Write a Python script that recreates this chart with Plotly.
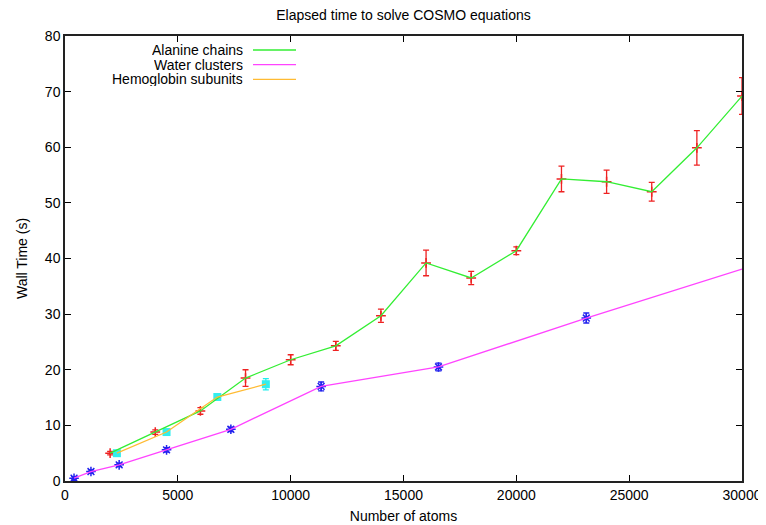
import plotly.graph_objects as go

# Alanine chains
ala_x = [2000, 4000, 6000, 8000, 10000, 12000, 14000, 16000, 18000, 20000, 22000, 24000, 26000, 28000, 30000]
ala_y = [5.0, 8.8, 12.6, 18.5, 21.8, 24.3, 29.7, 39.2, 36.5, 41.4, 54.3, 53.8, 52.0, 59.9, 69.2]
ala_e = [0.3, 0.4, 0.6, 1.5, 0.9, 0.8, 1.2, 2.3, 1.2, 0.7, 2.3, 2.1, 1.7, 3.1, 3.3]

# Water clusters
wat_x = [400, 1150, 2400, 4500, 7350, 11350, 16550, 23100]
wat_y = [0.5, 1.7, 2.9, 5.6, 9.3, 17.0, 20.5, 29.3]
wat_e = [0.3, 0.3, 0.3, 0.4, 0.4, 0.8, 0.7, 0.9]
wat_line_x = wat_x + [30000]
wat_line_y = wat_y + [38.1]

# Hemoglobin subunits
hem_x = [2300, 4500, 6750, 8900]
hem_y = [5.0, 8.8, 15.1, 17.4]
hem_e = [0.3, 0.3, 0.4, 1.0]

legend_names = ["Alanine chains", "Water clusters", "Hemoglobin subunits"]
line_colors = ["#33ee33", "#ff44ff", "#ffbb33"]

FONT = "Liberation Sans"
FS = 14
OFF = 8  # page body margin
W, H = 766 - OFF, 525 - OFF
l, r, t, b = 65 - OFF, 24, 36 - OFF, 44
pw, ph = W - l - r, H - t - b

fig = go.Figure()

fig.add_trace(go.Scatter(x=ala_x, y=ala_y, mode="markers",
                         error_y=dict(type="data", array=ala_e, color="#ee2222", thickness=1.3, width=3),
                         marker=dict(symbol="cross-thin-open", size=7, color="#ee2222",
                                     line=dict(color="#ee2222", width=1.5)),
                         showlegend=False))
fig.add_trace(go.Scatter(x=wat_x, y=wat_y, mode="markers",
                         error_y=dict(type="data", array=wat_e, color="#2222ee", thickness=1.3, width=3),
                         marker=dict(symbol="asterisk-open", size=8, color="#2222ee",
                                     line=dict(color="#2222ee", width=1.5)),
                         showlegend=False))
fig.add_trace(go.Scatter(x=hem_x, y=hem_y, mode="markers",
                         error_y=dict(type="data", array=hem_e, color="#22eeee", thickness=1.3, width=3),
                         marker=dict(symbol="square", size=8, color="#33eeee"),
                         showlegend=False))

fig.add_trace(go.Scatter(x=ala_x, y=ala_y, mode="lines", line=dict(color=line_colors[0], width=1.3),
                         showlegend=False))
fig.add_trace(go.Scatter(x=wat_line_x, y=wat_line_y, mode="lines", line=dict(color=line_colors[1], width=1.3),
                         showlegend=False))
fig.add_trace(go.Scatter(x=hem_x, y=hem_y, mode="lines", line=dict(color=line_colors[2], width=1.3),
                         showlegend=False))

axis_common = dict(showline=True, linecolor="#222222", linewidth=1.5, mirror="allticks",
                   ticks="inside", ticklen=6, tickcolor="black", showgrid=False, zeroline=False,
                   automargin=False, tickformat="d",
                   tickfont=dict(family=FONT, size=FS, color="black"))

fig.update_layout(
    width=W, height=H,
    margin=dict(l=l, r=r, t=t, b=b),
    plot_bgcolor="white", paper_bgcolor="white",
    title=dict(text="Elapsed time to solve COSMO equations", x=(l + pw / 2) / W, xanchor="center",
               y=1 - (15 - OFF) / H, yanchor="middle", font=dict(family=FONT, size=FS, color="black")),
    xaxis=dict(range=[0, 30000], dtick=5000, title=dict(text="Number of atoms", standoff=10,
               font=dict(family=FONT, size=FS, color="black")), **axis_common),
    yaxis=dict(range=[0, 80], dtick=10, title=dict(text="Wall Time (s)", standoff=14,
               font=dict(family=FONT, size=FS, color="black")), **axis_common),
)

anns = []
for i, (name, col) in enumerate(zip(legend_names, line_colors)):
    ypx = 50 + i * 14.7 - OFF
    yp = 1 - (ypx - t) / ph
    anns.append(dict(x=(244 - OFF - l) / pw, y=yp, xref="paper", yref="paper", text=name, showarrow=False,
                     xanchor="right", yanchor="middle", height=14, valign="middle", borderpad=0,
                     font=dict(family=FONT, size=FS, color="black")))
    fig.add_shape(type="line", xref="paper", yref="paper", x0=(253 - OFF - l) / pw, x1=(296 - OFF - l) / pw,
                  y0=yp, y1=yp, line=dict(color=col, width=1.3))
fig.update_layout(annotations=anns)

fig.write_html("out.html")
